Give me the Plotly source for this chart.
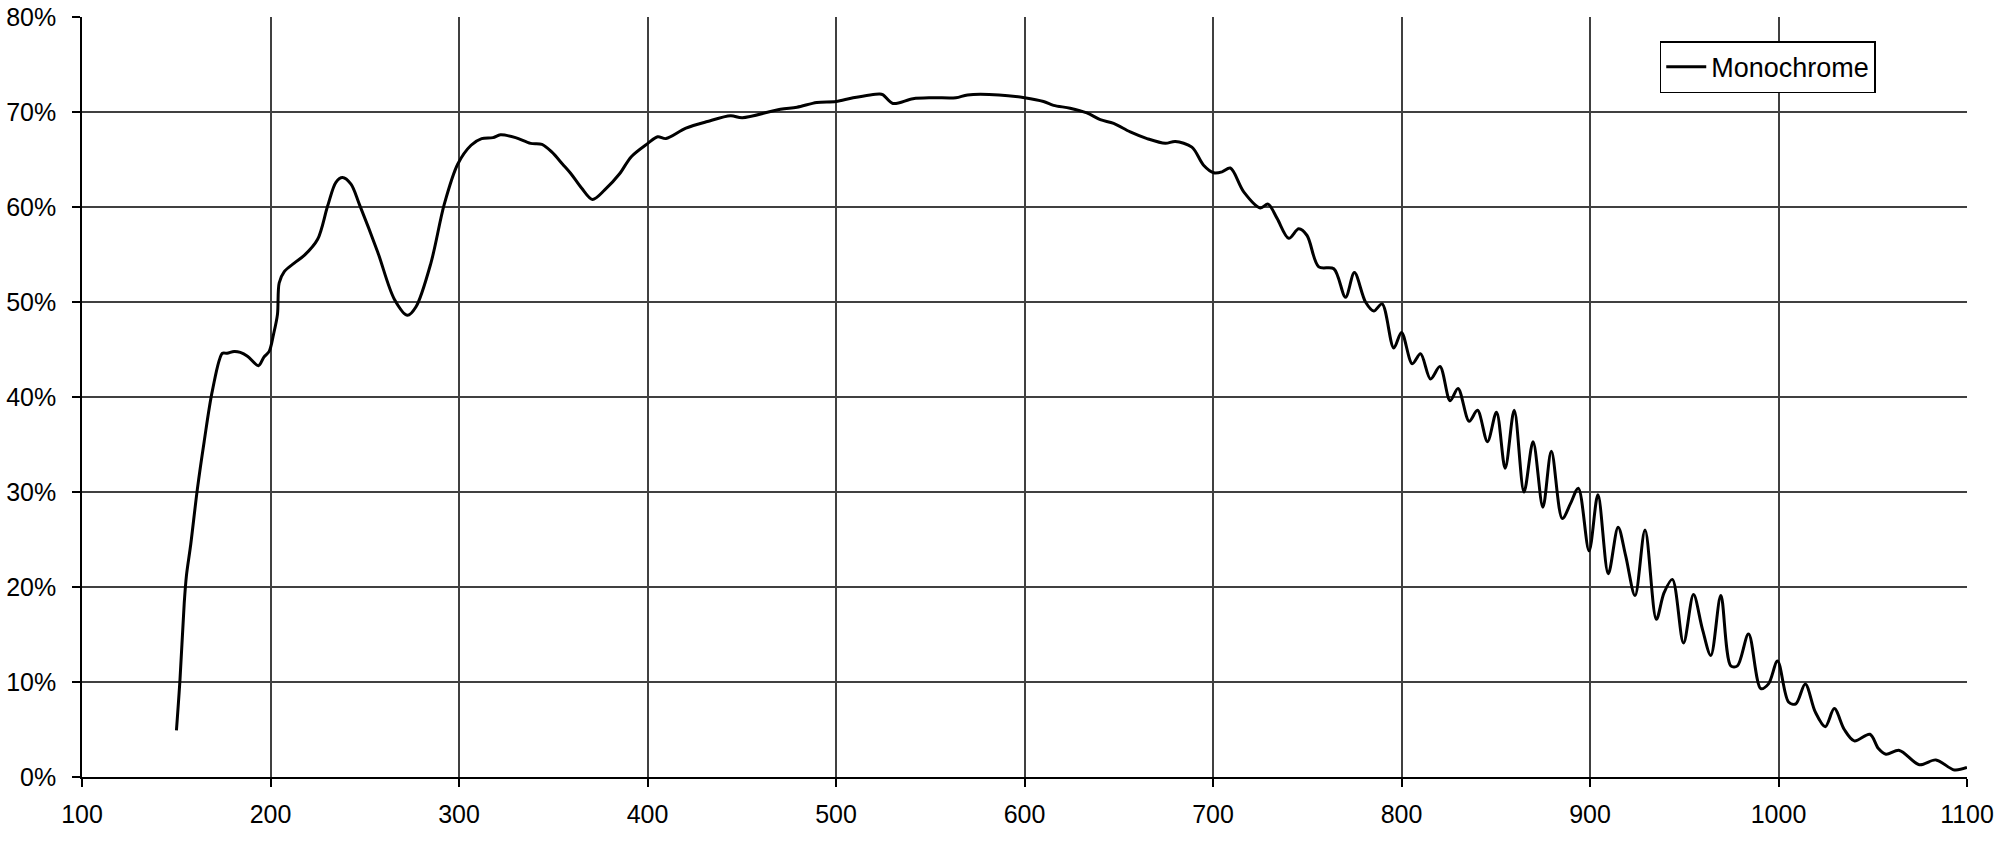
import plotly.graph_objects as go

wavelength = [
    150.1, 152.0, 154.2, 155.4, 157.7, 161.2, 164.8, 169.2, 174.5, 177.0,
    180.7, 184.0, 187.8, 193.6, 196.5, 199.3, 201.6, 203.7, 204.6, 207.3,
    212.6, 217.9, 225.0, 230.3, 234.7, 238.2, 242.7, 247.1, 256.8, 265.7,
    272.7, 277.2, 285.1, 292.2, 299.3, 306.4, 312.0, 318.0, 322.0, 330.0,
    338.0, 344.0, 349.2, 355.0, 359.8, 365.0, 370.8, 377.3, 385.2, 391.4,
    400.2, 405.4, 409.8, 420.4, 431.8, 444.1, 450.3, 470.5, 479.3, 489.8,
    500.0, 509.1, 523.2, 525.0, 530.2, 540.8, 551.3, 563.6, 569.8, 586.5,
    600.0, 610.1, 615.4, 624.2, 633.1, 640.2, 647.3, 656.1, 665.0, 674.7,
    680.0, 688.8, 695.0, 700.4, 704.8, 709.2, 716.3, 725.1, 729.2, 734.0,
    740.2, 745.5, 749.9, 756.1, 764.1, 770.3, 775.0, 780.9, 785.3, 789.7,
    795.9, 800.0, 805.7, 810.1, 815.4, 820.4, 825.8, 830.0, 835.9, 840.3,
    845.6, 850.4, 855.0, 859.8, 865.0, 869.8, 875.0, 879.5, 885.3, 889.7,
    893.8, 899.5, 904.2, 909.7, 914.9, 918.9, 923.9, 929.2, 935.2, 939.3,
    943.7, 949.6, 954.9, 959.6, 964.1, 969.4, 974.7, 978.2, 984.1, 990.6,
    994.7, 999.5, 1005.3, 1009.2, 1014.2, 1019.5, 1024.8, 1029.6, 1034.9, 1040.2,
    1048.5, 1053.0, 1057.0, 1064.1, 1074.7, 1083.5, 1093.3, 1100.0,
]

efficiency = [
    4.9, 10.3, 18.2, 21.2, 24.5, 30.3, 35.3, 40.7, 44.6, 44.6,
    44.8, 44.7, 44.3, 43.3, 44.2, 44.8, 46.6, 48.7, 52.0, 53.2,
    54.1, 54.9, 56.6, 60.1, 62.6, 63.1, 62.4, 60.3, 55.3, 50.3,
    48.6, 49.5, 54.1, 60.3, 64.5, 66.5, 67.2, 67.3, 67.6, 67.3,
    66.7, 66.6, 65.8, 64.5, 63.4, 62.0, 60.8, 61.8, 63.5, 65.3,
    66.7, 67.4, 67.2, 68.3, 69.0, 69.6, 69.4, 70.3, 70.5, 71.0,
    71.1, 71.5, 71.9, 71.8, 70.9, 71.4, 71.5, 71.5, 71.8, 71.8,
    71.5, 71.1, 70.7, 70.4, 69.9, 69.2, 68.8, 67.9, 67.2, 66.7,
    66.9, 66.3, 64.4, 63.6, 63.7, 64.1, 61.6, 59.9, 60.3, 58.8,
    56.7, 57.7, 57.0, 53.7, 53.5, 50.5, 53.1, 50.0, 49.05, 49.8,
    45.15, 46.8, 43.5, 44.55, 41.9, 43.2, 39.6, 40.9, 37.45, 38.6,
    35.3, 38.4, 32.5, 38.6, 30.0, 35.3, 28.4, 34.3, 27.2, 28.8,
    30.4, 23.8, 29.7, 21.4, 26.3, 23.3, 19.1, 26.0, 16.6, 19.4,
    20.8, 14.1, 19.2, 15.6, 12.8, 19.1, 11.7, 11.7, 15.05, 9.3,
    9.8, 12.2, 7.9, 7.7, 9.8, 6.85, 5.3, 7.2, 5.0, 3.8,
    4.5, 3.0, 2.4, 2.8, 1.3, 1.8, 0.74, 1.0,
]

x_ticks = [100, 200, 300, 400, 500, 600, 700, 800, 900, 1000, 1100]
y_ticks = [0, 10, 20, 30, 40, 50, 60, 70, 80]
y_tick_labels = ["0%", "10%", "20%", "30%", "40%", "50%", "60%", "70%", "80%"]

font_family = "Liberation Sans, Arial, sans-serif"

fig = go.Figure()
fig.add_trace(go.Scatter(
    x=wavelength, y=efficiency, mode="lines", name="Monochrome",
    line=dict(color="black", width=3, shape="spline", smoothing=0.9),
))

axis_common = dict(
    showgrid=True, gridcolor="#404040", gridwidth=1.5,
    showline=True, linecolor="black", linewidth=1.5, mirror=False,
    ticks="outside", ticklen=8, tickcolor="black", tickwidth=1.5,
    zeroline=False, automargin=False,
    tickfont=dict(family=font_family, size=25, color="black"),
)

fig.update_layout(
    width=2000, height=847,
    margin=dict(l=82, r=33, t=17, b=70),
    plot_bgcolor="white", paper_bgcolor="white",
    font=dict(family=font_family, size=25, color="black"),
    showlegend=True,
    legend=dict(
        x=0.837, y=0.968, xanchor="left", yanchor="top",
        bordercolor="black", borderwidth=1.5, bgcolor="white",
        font=dict(family=font_family, size=27, color="black"),
        itemwidth=40,
    ),
)
fig.update_xaxes(range=[100, 1100], tickmode="array", tickvals=x_ticks,
                 ticklabelstandoff=6, **axis_common)
fig.update_yaxes(range=[0, 80], tickmode="array", tickvals=y_ticks,
                 ticktext=y_tick_labels, ticklabelstandoff=11, **axis_common)

fig.write_html("out.html", config={"displayModeBar": False},
               post_script="document.body.style.margin='0';")
